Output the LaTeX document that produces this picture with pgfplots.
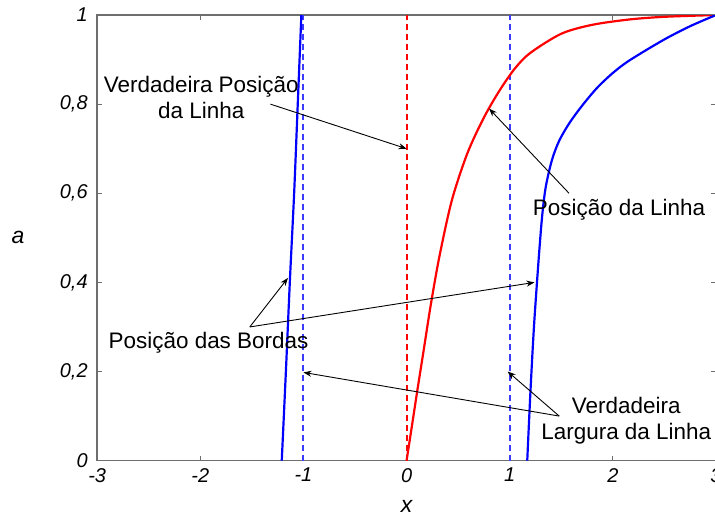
\documentclass[border=0pt]{standalone}
\usepackage{fontspec}
\setmainfont{Liberation Sans}
\usepackage{pgfplots}
\pgfplotsset{compat=1.18}
\usetikzlibrary{arrows.meta}
\definecolor{axgray}{RGB}{110,110,110}
\definecolor{mblue}{RGB}{0,0,255}
\definecolor{dblue}{RGB}{60,60,255}
\definecolor{mred}{RGB}{255,0,0}

\begin{document}
\begin{tikzpicture}[
  note/.style={font=\fontsize{22.5}{26}\selectfont, align=center, inner sep=0pt},
  pointer/.style={black, line width=0.9pt, -{Stealth[length=8bp,width=6bp]}},
  truewidth/.style={draw=dblue, line width=1.8pt, dash pattern=on 6bp off 4bp}
]
\begin{axis}[
  scale only axis, width=618bp, height=445bp,
  xmin=-3, xmax=3, ymin=0, ymax=1,
  xtick={-3,-2,-1,0,1,2,3},
  ytick={0,0.2,0.4,0.6,0.8,1},
  tick align=inside, major tick length=5bp,
  axis line style={axgray, line width=1.5pt},
  tick style={axgray, line width=1pt},
  tick label style={font=\fontsize{20}{24}\selectfont\itshape},
  /pgf/number format/assume math mode=true,
  /pgf/number format/use comma,
  yticklabel style={xshift=-6bp},
  xticklabel style={yshift=-4bp},
  xlabel={\itshape x}, ylabel={\itshape a},
  label style={font=\fontsize{23}{26}\selectfont},
  xlabel style={at={(axis description cs:0.5,-0.082)}, anchor=north},
  ylabel style={rotate=-90, at={(axis description cs:-0.128,0.5)}, anchor=center},
]
\coordinate (ll) at (rel axis cs:0,0);
\coordinate (ur) at (rel axis cs:1,1);

% true line width (edges at -1 and 1)
\addplot[truewidth] coordinates {(1,0) (1,1)};
\addplot[truewidth] coordinates {(-1.005,0) (-1.005,1)};
% true line position
\addplot[draw=mred, line width=1.9pt, dash pattern=on 6bp off 4bp] coordinates {(0.004,0) (0.004,1)};

% measured line position
\addplot[mred, line width=2.2pt, smooth] coordinates {
  (0,0) (0.05,0.075) (0.106,0.16) (0.164,0.245) (0.235,0.35) (0.32,0.46)
  (0.44,0.585) (0.59,0.69) (0.75,0.77) (0.9,0.83) (1.05,0.88) (1.2,0.915)
  (1.5,0.958) (1.8,0.978) (2.16,0.99) (2.5,0.996) (3,1)};

% measured edge positions
\addplot[mblue, line width=2.2pt, smooth] coordinates {
  (-1.21,0) (-1.17,0.2) (-1.13,0.41) (-1.09,0.6) (-1.055,0.8) (-1.02,1)};
\addplot[mblue, line width=2.2pt, smooth] coordinates {
  (1.17,0) (1.2,0.15) (1.235,0.3) (1.28,0.45) (1.315,0.55) (1.35,0.615)
  (1.41,0.675) (1.48,0.718) (1.58,0.758) (1.70,0.796) (1.845,0.836)
  (2.0,0.870) (2.16,0.898) (2.49,0.944) (2.75,0.975) (3,1)};

% annotations
\draw[pointer] (axis cs:-1.32,0.80) -- (axis cs:0,0.70);
\draw[pointer] (axis cs:1.575,0.60) -- (axis cs:0.80,0.79);
\draw[pointer] (axis cs:-1.52,0.30) -- (axis cs:-1.15,0.41);
\draw[pointer] (axis cs:-1.52,0.30) -- (axis cs:1.24,0.40);
\draw[pointer] (axis cs:1.48,0.10) -- (axis cs:0.98,0.20);
\draw[pointer] (axis cs:1.48,0.10) -- (axis cs:-1.0,0.198);

\node[note] at (axis cs:-1.99,0.816) {Verdadeira Posição\\da Linha};
\node[note] at (axis cs:2.06,0.562) {Posição da Linha};
\node[note] at (axis cs:-1.92,0.265) {Posição das Bordas};
\node[note] at (axis cs:2.13,0.09) {Verdadeira\\Largura da Linha};
\end{axis}
\pgfresetboundingbox
\path ([shift={(-97bp,-55bp)}]ll) rectangle ([shift={(-1bp,15bp)}]ur);
\end{tikzpicture}
\end{document}
